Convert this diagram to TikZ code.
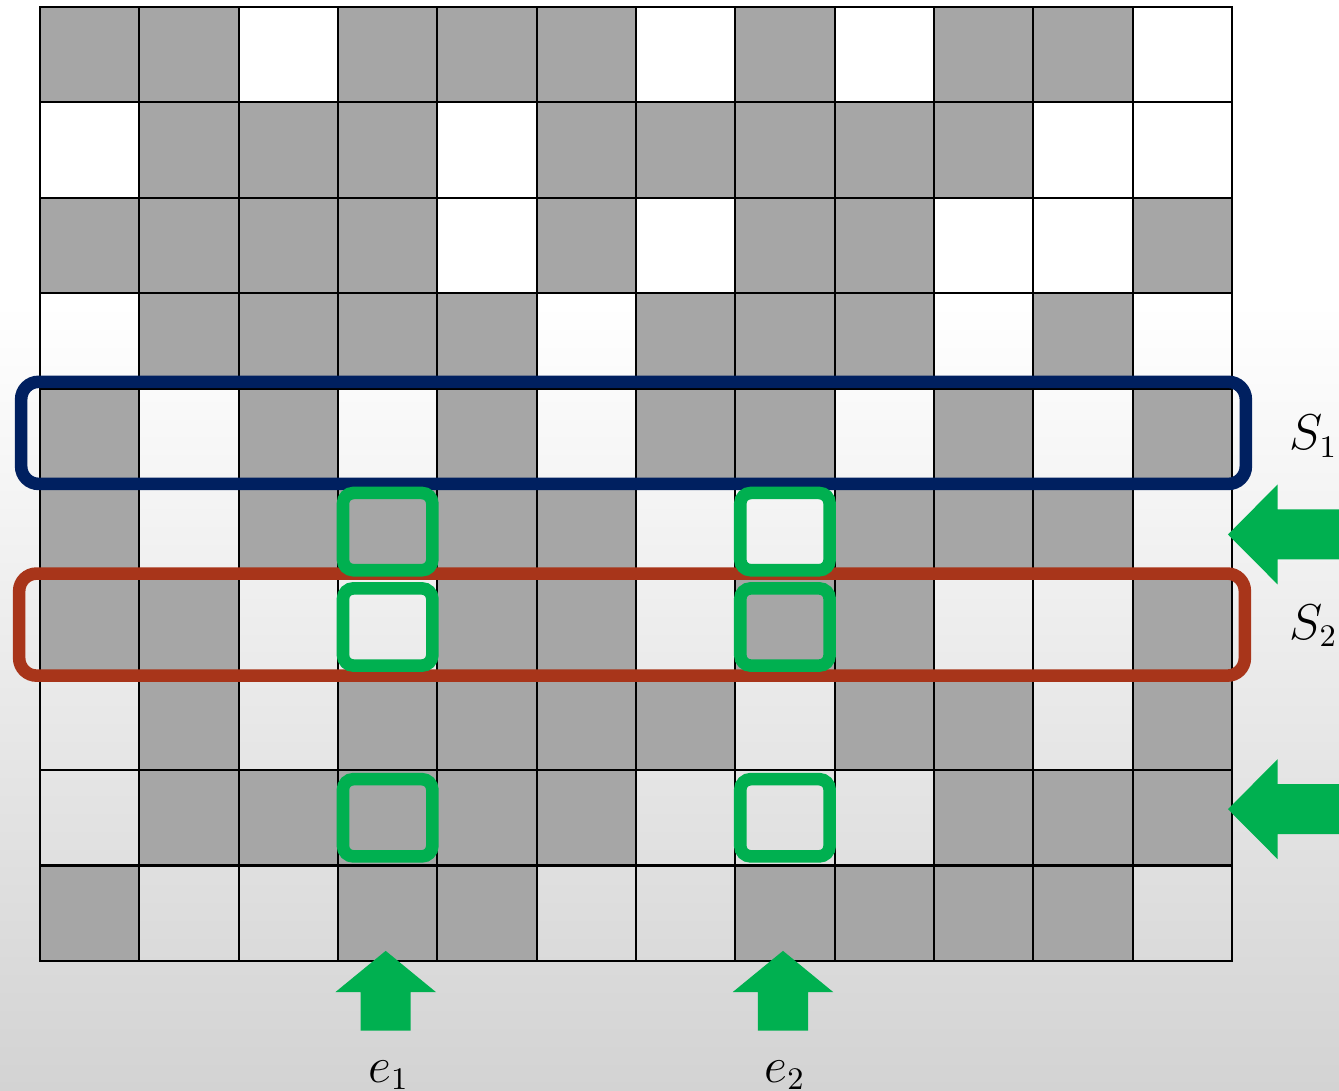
\documentclass[tikz,border=0pt]{standalone}
\usepackage{tikz}
\usetikzlibrary{positioning}
\usepackage{amsmath}
\definecolor{cellgray}{RGB}{166,166,166}
\definecolor{setblue}{RGB}{0,32,96}
\definecolor{setred}{RGB}{168,53,26}
\definecolor{markgreen}{RGB}{0,176,80}
\definecolor{bgbottom}{RGB}{211,211,211}

\begin{document}
\begin{tikzpicture}[x=1cm, y=0.9604cm,
    gridline/.style={black, line width=0.6pt, line cap=rect},
    setbox/.style={line width=3.6pt, rounded corners=5pt},
    cellmark/.style={markgreen, line width=3.6pt, rounded corners=3pt},
    lbl/.style={inner sep=0pt, font=\fontsize{13.5}{16}\selectfont}]
    \useasboundingbox (-0.403,-1.363) rectangle (13.078,10.073);
    % background
    \fill[white] (-0.403,6.85) rectangle (13.078,10.073);
    \shade[top color=white, bottom color=bgbottom] (-0.403,-1.363) rectangle (13.078,6.9);
    % cells, row by row from the top
    \foreach \cells [count=\r] in {
        {1,1,0,1,1,1,0,1,0,1,1,0},
        {0,1,1,1,0,1,1,1,1,1,0,0},
        {1,1,1,1,0,1,0,1,1,0,0,1},
        {0,1,1,1,1,0,1,1,1,0,1,0},
        {1,0,1,0,1,0,1,1,0,1,0,1},
        {1,0,1,1,1,1,0,0,1,1,1,0},
        {1,1,0,0,1,1,0,1,1,0,0,1},
        {0,1,0,1,1,1,1,0,1,1,0,1},
        {0,1,1,1,1,1,0,0,0,1,1,1},
        {1,0,0,1,1,0,0,1,1,1,1,0}} {
        \foreach \v [count=\k] in \cells {
            \ifnum\v=1
                \fill[cellgray] (\k-1,10-\r) rectangle ++(1,1);
            \fi
        }
    }
    \foreach \i in {0,...,12} \draw[gridline] (\i,0) -- (\i,10);
    \foreach \j in {0,...,10} \draw[gridline] (0,\j) -- (12,\j);
    % the two sets
    \draw[setbox, setblue] (-0.19,5.0) rectangle (12.14,6.07);
    \draw[setbox, setred] (-0.21,2.99) rectangle (12.13,4.06);
    \node[lbl, anchor=base west] (s1) at (12.57,5.36) {$S_1$};
    \node[lbl, anchor=base west] (s2) at (12.57,3.37) {$S_2$};
    % marked cells
    \foreach \c in {3,7} {
        \foreach \rw in {1,3,4} {
            \draw[cellmark] (\c+0.05,\rw+0.095) rectangle (\c+0.95,\rw+0.905);
        }
    }
    % arrows
    \foreach \ay in {4.47,1.59}
        \fill[markgreen] (11.96,\ay) -- ++(0.5,0.524) -- ++(0,-0.262) -- ++(0.62,0)
            -- ++(0,-0.524) -- ++(-0.62,0) -- ++(0,-0.262) -- cycle;
    \foreach \ax in {3.48,7.48}
        \fill[markgreen] (\ax,0.105) -- ++(0.507,-0.433) -- ++(-0.255,0) -- ++(0,-0.403)
            -- ++(-0.504,0) -- ++(0,0.403) -- ++(-0.255,0) -- cycle;
    \node[lbl, anchor=base] (e1) at (3.51,-1.27) {$e_1$};
    \node[lbl, anchor=base] (e2) at (7.5,-1.27) {$e_2$};
\end{tikzpicture}
\end{document}
